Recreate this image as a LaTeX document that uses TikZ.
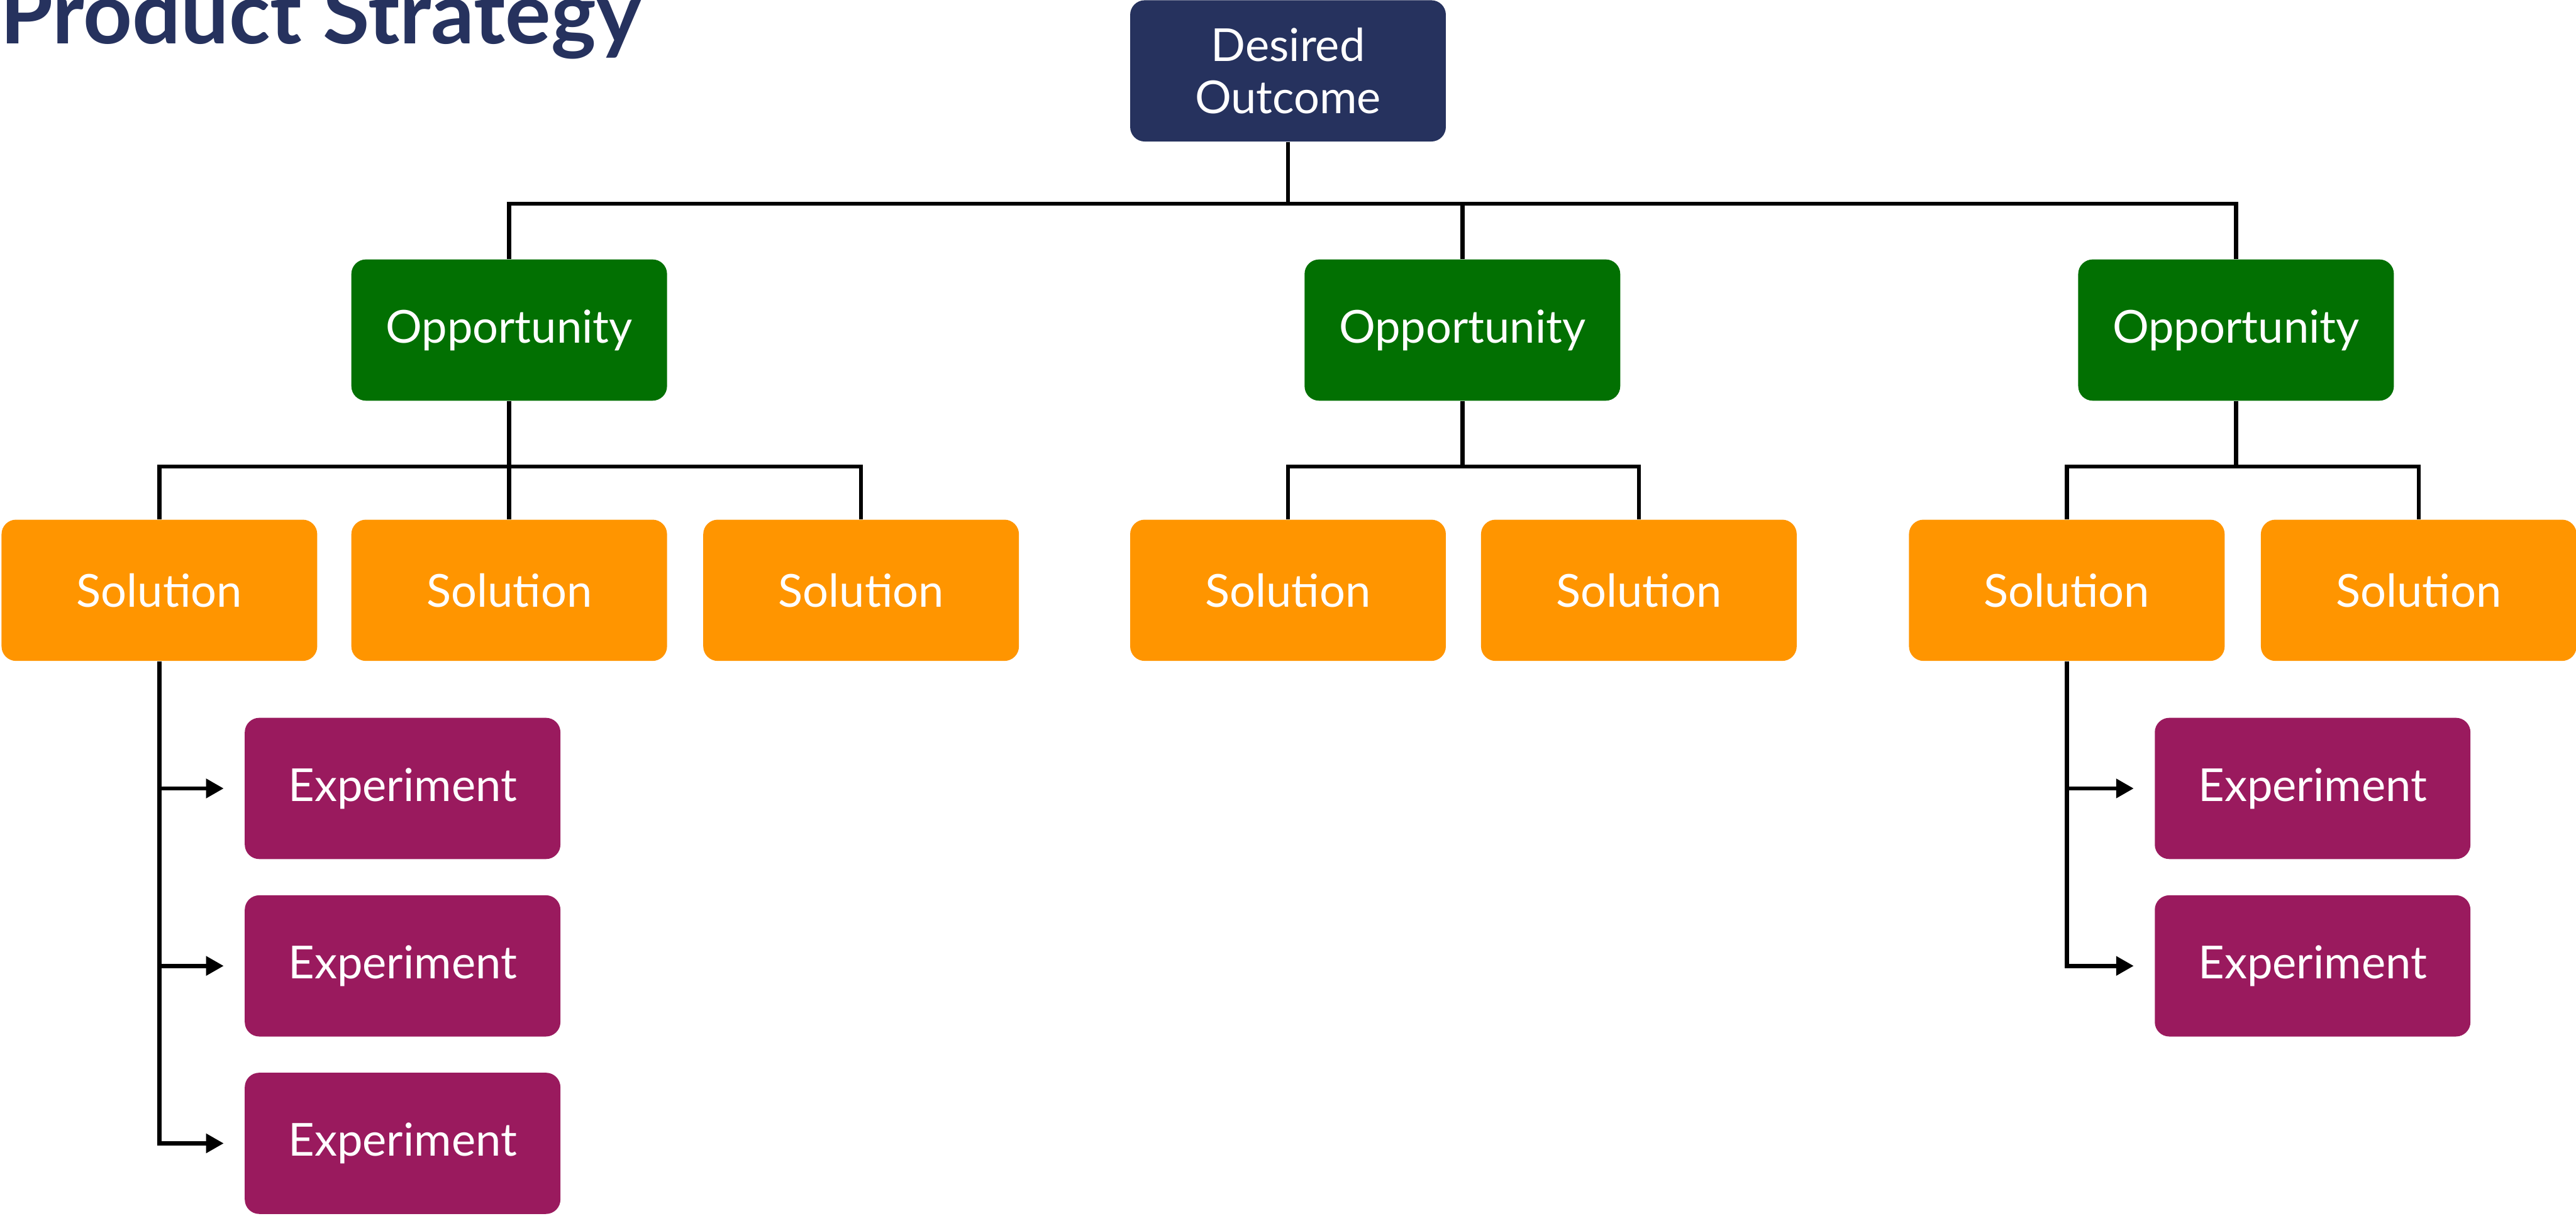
\documentclass[tikz,border=0pt]{standalone}
\usepackage{fontspec}
\setmainfont{Lato}
\usetikzlibrary{arrows.meta}

\definecolor{navy}{HTML}{26325E}
\definecolor{oppgreen}{HTML}{027002}
\definecolor{solorange}{HTML}{FF9500}
\definecolor{exppurple}{HTML}{9A1A5E}

\tikzset{
	box/.style={rounded corners=2.8mm, minimum width=6.1cm, minimum height=2.73cm, inner sep=0pt,
		text=white, align=center, font=\fontsize{25}{29}\selectfont},
	outcomebox/.style={box, fill=navy},
	oppbox/.style={box, fill=oppgreen},
	solbox/.style={box, fill=solorange},
	expbox/.style={box, fill=exppurple},
	link/.style={line width=0.8mm}
}

\begin{document}
\begin{tikzpicture}[>={Triangle[length=3.4mm,width=3.6mm]}]
	\path[use as bounding box, clip] (0,0) rectangle (49.78,-23.5);
	\node[anchor=base west, text=navy, font=\fontsize{47}{52}\selectfont\bfseries, inner sep=0pt] (title) at (0,-0.85) {Product Strategy};
	
	\node[outcomebox] (outcome) at (24.89,-1.37) {Desired\\Outcome};
	
	\node[oppbox] (opp1) at (9.84,-6.38) {Opportunity};
	\node[oppbox] (opp2) at (28.26,-6.38) {Opportunity};
	\node[oppbox] (opp3) at (43.21,-6.38) {Opportunity};
	
	\node[solbox] (sol11) at (3.08,-11.41) {Solution};
	\node[solbox] (sol12) at (9.84,-11.41) {Solution};
	\node[solbox] (sol13) at (16.64,-11.41) {Solution};
	\node[solbox] (sol21) at (24.89,-11.41) {Solution};
	\node[solbox] (sol22) at (31.67,-11.41) {Solution};
	\node[solbox] (sol31) at (39.94,-11.41) {Solution};
	\node[solbox] (sol32) at (46.74,-11.41) {Solution};
	
	\node[expbox] (exp11) at (7.78,-15.24) {Experiment};
	\node[expbox] (exp12) at (7.78,-18.67) {Experiment};
	\node[expbox] (exp13) at (7.78,-22.10) {Experiment};
	\node[expbox] (exp31) at (44.69,-15.24) {Experiment};
	\node[expbox] (exp32) at (44.69,-18.67) {Experiment};
	
	\coordinate (bus0) at (24.89,-3.94);
	\coordinate (bus1) at (9.84,-9.02);
	\coordinate (bus2) at (28.26,-9.02);
	\coordinate (bus3) at (43.21,-9.02);
	
	\draw[link] (outcome.south) -- (bus0);
	\draw[link] (opp1.north) |- (bus0) -| (opp3.north);
	\draw[link] (opp2.north) -- (opp2.north |- bus0);
	
	\draw[link] (opp1.south) -- (bus1);
	\draw[link] (sol11.north) |- (bus1) -| (sol13.north);
	\draw[link] (sol12.north) -- (bus1);
	\draw[link] (opp2.south) -- (bus2);
	\draw[link] (sol21.north) |- (bus2) -| (sol22.north);
	\draw[link] (opp3.south) -- (bus3);
	\draw[link] (sol31.north) |- (bus3) -| (sol32.north);
	
	\draw[link,->] (sol11.south) |- ([xshift=-4mm]exp13.west);
	\draw[link,->] (sol11.south |- exp11) -- ([xshift=-4mm]exp11.west);
	\draw[link,->] (sol11.south |- exp12) -- ([xshift=-4mm]exp12.west);
	\draw[link,->] (sol31.south) |- ([xshift=-4mm]exp32.west);
	\draw[link,->] (sol31.south |- exp31) -- ([xshift=-4mm]exp31.west);
\end{tikzpicture}
\end{document}
